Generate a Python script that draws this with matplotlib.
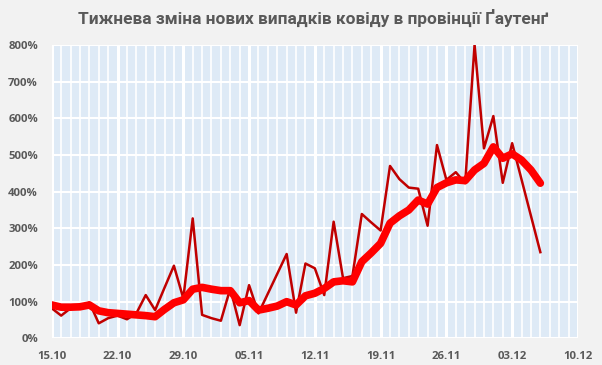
import pandas as pd
import matplotlib.pyplot as plt
import matplotlib.dates as mdates
from matplotlib.ticker import MultipleLocator, PercentFormatter

# Щоденні дані з 15.10 по 06.12
dates = pd.date_range('2021-10-15', '2021-12-06', freq='D')
week_ticks = pd.date_range('2021-10-15', '2021-12-10', freq='7D')

daily = [82, 62, 82, 84, 98, 41, 55, 62, 52, 68,
         118, 77, 138, 198, 109, 327, 64, 55, 48, 136,
         36, 145, 68, 122, 176, 230, 70, 204, 191, 118,
         318, 164, 170, 339, 316, 294, 470, 434, 411, 408,
         307, 527, 432, 453, 423, 800, 518, 606, 424, 532,
         433, 334, 235]

weekly_avg = [91, 85, 85, 86, 91, 75, 70, 68, 66, 64,
              62, 59, 79, 97, 105, 134, 139, 134, 130, 130,
              97, 103, 77, 82, 88, 100, 91, 116, 123, 136,
              154, 157, 154, 209, 233, 259, 314, 334, 350, 377,
              366, 411, 424, 432, 430, 459, 477, 522, 491, 503,
              486, 459, 423]

BG = '#F2F2F2'
PLOT_BG = '#DEEAF6'
TEXT = '#595959'

fig = plt.figure(figsize=(6.02, 3.65), dpi=100, facecolor=BG)
ax = fig.add_axes([0.086, 0.073, 0.874, 0.804])
ax.set_facecolor(PLOT_BG)

ax.plot(dates, daily, color='#C00000', linewidth=1.8, zorder=3)
ax.plot(dates, weekly_avg, color='#FF0000', linewidth=5.5,
        solid_capstyle='round', solid_joinstyle='round', zorder=4)

ax.set_xlim(week_ticks[0], week_ticks[-1])
ax.set_ylim(0, 800)

ax.set_xticks(week_ticks)
ax.xaxis.set_major_formatter(mdates.DateFormatter('%d.%m'))
ax.xaxis.set_minor_locator(mdates.DayLocator())
ax.yaxis.set_major_locator(MultipleLocator(100))
ax.yaxis.set_major_formatter(PercentFormatter(decimals=0))

ax.grid(True, which='major', axis='x', color='white', linewidth=2.2)
ax.grid(True, which='minor', axis='x', color='white', linewidth=1.2)
ax.grid(True, which='major', axis='y', color='white', linewidth=1.5)
ax.set_axisbelow(True)

for s in ax.spines.values():
    s.set_visible(False)

ax.tick_params(which='both', length=0)
ax.tick_params(axis='x', pad=9)
ax.tick_params(axis='y', pad=10)
for lbl in ax.get_xticklabels() + ax.get_yticklabels():
    lbl.set_fontfamily('Open Sans')
    lbl.set_fontweight('bold')
    lbl.set_fontsize(8.2)
    lbl.set_color(TEXT)

fig.text(0.52, 0.95, 'Тижнева зміна нових випадків ковіду в провінції Ґаутенґ',
         ha='center', va='center', fontsize=12.4, fontweight='bold',
         color=TEXT, family='Roboto')

fig.savefig('out.png', dpi=100, facecolor=BG)
